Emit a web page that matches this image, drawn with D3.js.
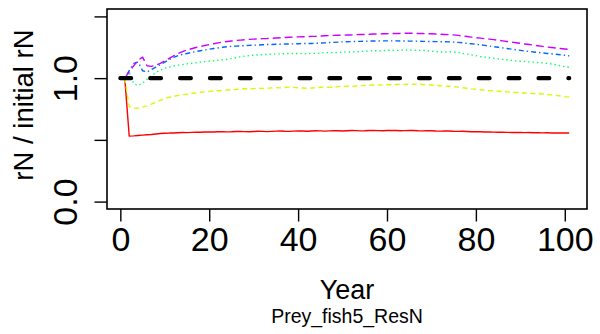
<!DOCTYPE html>
<html>
<head>
<meta charset="utf-8">
<script src="https://cdn.jsdelivr.net/npm/d3@7"></script>
<style>
  html, body { margin: 0; padding: 0; background: #fff; }
  svg { display: block; }
  text { font-family: "Liberation Sans", Arial, Helvetica, sans-serif; fill: #000; }
</style>
</head>
<body>
<svg id="chart" width="600" height="334"></svg>
<script>
// Simulation years (one value per year)
const years = d3.range(1, 102);

// Relative prey reserve nitrogen, rN / initial rN, per scenario
const seriesRed = [
  1.000, 0.530, 0.532, 0.535, 0.538, 0.541, 0.544, 0.548, 0.551, 0.553,
  0.555, 0.556, 0.558, 0.560, 0.559, 0.561, 0.563, 0.562, 0.564, 0.565,
  0.564, 0.566, 0.567, 0.565, 0.566, 0.568, 0.569, 0.567, 0.566, 0.568,
  0.570, 0.569, 0.567, 0.569, 0.571, 0.572, 0.570, 0.569, 0.571, 0.573,
  0.572, 0.570, 0.572, 0.574, 0.573, 0.571, 0.573, 0.575, 0.574, 0.572,
  0.574, 0.576, 0.575, 0.573, 0.574, 0.576, 0.577, 0.575, 0.574, 0.576,
  0.577, 0.576, 0.574, 0.575, 0.577, 0.576, 0.574, 0.573, 0.575, 0.574,
  0.572, 0.571, 0.573, 0.572, 0.570, 0.569, 0.570, 0.568, 0.566, 0.567,
  0.566, 0.564, 0.565, 0.563, 0.562, 0.563, 0.561, 0.560, 0.561, 0.560,
  0.559, 0.560, 0.558, 0.558, 0.557, 0.558, 0.556, 0.557, 0.556, 0.555, 0.555
];
const seriesYellow = [
  1.000, 0.770, 0.755, 0.758, 0.765, 0.775, 0.790, 0.805, 0.820, 0.835,
  0.845, 0.852, 0.860, 0.866, 0.870, 0.876, 0.882, 0.886, 0.889, 0.893,
  0.896, 0.898, 0.901, 0.904, 0.906, 0.908, 0.912, 0.914, 0.913, 0.915,
  0.918, 0.916, 0.918, 0.921, 0.923, 0.921, 0.924, 0.927, 0.925, 0.922,
  0.920, 0.918, 0.920, 0.923, 0.926, 0.928, 0.925, 0.927, 0.931, 0.933,
  0.935, 0.933, 0.936, 0.939, 0.940, 0.942, 0.944, 0.943, 0.945, 0.947,
  0.946, 0.948, 0.950, 0.949, 0.951, 0.950, 0.952, 0.949, 0.946, 0.944,
  0.941, 0.938, 0.936, 0.934, 0.931, 0.927, 0.922, 0.918, 0.913, 0.910,
  0.906, 0.902, 0.899, 0.897, 0.894, 0.891, 0.889, 0.886, 0.884, 0.882,
  0.880, 0.877, 0.876, 0.874, 0.871, 0.868, 0.864, 0.860, 0.855, 0.850, 0.846
];
const seriesGreen = [
  1.000, 1.050, 0.955, 0.940, 0.960, 0.990, 1.020, 1.045, 1.065, 1.080,
  1.090, 1.098, 1.105, 1.110, 1.116, 1.120, 1.125, 1.130, 1.134, 1.138,
  1.141, 1.144, 1.148, 1.152, 1.158, 1.165, 1.172, 1.178, 1.183, 1.186,
  1.188, 1.190, 1.192, 1.194, 1.195, 1.197, 1.198, 1.200, 1.199, 1.200,
  1.198, 1.199, 1.201, 1.200, 1.202, 1.205, 1.207, 1.206, 1.208, 1.210,
  1.212, 1.211, 1.213, 1.216, 1.218, 1.220, 1.222, 1.221, 1.223, 1.225,
  1.226, 1.224, 1.226, 1.228, 1.228, 1.226, 1.224, 1.225, 1.222, 1.218,
  1.215, 1.212, 1.212, 1.214, 1.212, 1.207, 1.200, 1.195, 1.188, 1.182,
  1.175, 1.170, 1.165, 1.160, 1.156, 1.152, 1.148, 1.144, 1.140, 1.137,
  1.135, 1.132, 1.130, 1.127, 1.124, 1.120, 1.115, 1.108, 1.100, 1.093, 1.088
];
const seriesBlue = [
  1.000, 1.060, 1.120, 1.130, 1.060, 1.050, 1.070, 1.090, 1.110, 1.130,
  1.150, 1.168, 1.183, 1.193, 1.200, 1.208, 1.215, 1.222, 1.228, 1.234,
  1.240, 1.245, 1.250, 1.254, 1.257, 1.259, 1.261, 1.263, 1.265, 1.267,
  1.268, 1.270, 1.272, 1.273, 1.274, 1.275, 1.276, 1.277, 1.278, 1.279,
  1.280, 1.281, 1.281, 1.282, 1.284, 1.286, 1.288, 1.290, 1.292, 1.294,
  1.295, 1.296, 1.297, 1.298, 1.299, 1.300, 1.301, 1.301, 1.302, 1.302,
  1.302, 1.302, 1.301, 1.301, 1.300, 1.300, 1.299, 1.298, 1.297, 1.297,
  1.296, 1.295, 1.295, 1.294, 1.292, 1.290, 1.286, 1.282, 1.278, 1.274,
  1.270, 1.265, 1.260, 1.255, 1.250, 1.245, 1.240, 1.235, 1.230, 1.225,
  1.220, 1.216, 1.212, 1.208, 1.204, 1.200, 1.197, 1.193, 1.189, 1.185, 1.180
];
const seriesMagenta = [
  1.000, 1.050, 1.100, 1.145, 1.170, 1.100, 1.095, 1.105, 1.120, 1.140,
  1.160, 1.180, 1.200, 1.215, 1.228, 1.238, 1.248, 1.256, 1.264, 1.272,
  1.279, 1.286, 1.292, 1.297, 1.301, 1.305, 1.308, 1.311, 1.314, 1.316,
  1.318, 1.320, 1.321, 1.323, 1.325, 1.327, 1.329, 1.331, 1.333, 1.334,
  1.335, 1.336, 1.338, 1.339, 1.341, 1.343, 1.345, 1.346, 1.347, 1.348,
  1.349, 1.350, 1.352, 1.353, 1.354, 1.355, 1.357, 1.358, 1.359, 1.360,
  1.361, 1.362, 1.362, 1.363, 1.363, 1.363, 1.362, 1.361, 1.360, 1.359,
  1.357, 1.355, 1.354, 1.352, 1.350, 1.346, 1.342, 1.337, 1.332, 1.328,
  1.324, 1.320, 1.316, 1.312, 1.307, 1.302, 1.297, 1.292, 1.287, 1.282,
  1.277, 1.272, 1.267, 1.262, 1.257, 1.252, 1.248, 1.244, 1.240, 1.236, 1.232
];

// Reference line at the initial level
const refYears = [0, 101];
const refValue = 1;

// Axis ticks and labels
const xTicks = [0, 20, 40, 60, 80, 100];
const yTicks = [0, 0.5, 1, 1.5];
const yTickLabels = ["0.0", "", "1.0", ""];

const xTitle = "Year";
const yTitle = "rN / initial rN";
const subTitle = "Prey_fish5_ResN";

// Line styling per series
const lineStyles = [
  { values: seriesRed,     color: "#FF0000", dash: null },
  { values: seriesYellow,  color: "#CCFF00", dash: "5,3.5" },
  { values: seriesGreen,   color: "#00FF66", dash: "1.4,3" },
  { values: seriesBlue,    color: "#0066FF", dash: "1.4,3,5,3" },
  { values: seriesMagenta, color: "#CC00FF", dash: "8,4" }
];

const plot = { left: 107, right: 587, top: 9, bottom: 209 };

const x = d3.scaleLinear().domain([-3, 105]).range([plot.left, plot.right]);
const y = d3.scaleLinear().domain([-0.06, 1.56]).range([plot.bottom, plot.top]);

const svg = d3.select("#chart");

// Series lines
const line = d3.line()
  .x((d, i) => x(years[i]))
  .y(d => y(d));

lineStyles.forEach(s => {
  svg.append("path")
    .datum(s.values)
    .attr("d", line)
    .attr("fill", "none")
    .attr("stroke", s.color)
    .attr("stroke-width", 1.4)
    .attr("stroke-dasharray", s.dash)
    .attr("stroke-linejoin", "round");
});

// Thick dashed reference line
svg.append("path")
  .datum(refYears)
  .attr("d", d3.line().x(d => x(d)).y(() => y(refValue)))
  .attr("fill", "none")
  .attr("stroke", "#000")
  .attr("stroke-width", 4.2)
  .attr("stroke-linecap", "round")
  .attr("stroke-dasharray", "10.8,19.07");

// Plot frame
svg.append("rect")
  .attr("x", plot.left)
  .attr("y", plot.top)
  .attr("width", plot.right - plot.left)
  .attr("height", plot.bottom - plot.top)
  .attr("fill", "none")
  .attr("stroke", "#000")
  .attr("stroke-width", 1.6);

// X axis
const gx = svg.append("g")
  .attr("transform", `translate(0,${plot.bottom})`)
  .call(d3.axisBottom(x).tickValues(xTicks).tickSize(12.5).tickFormat(d3.format("d")));
gx.select(".domain").remove();
gx.selectAll(".tick line").attr("stroke", "#000").attr("stroke-width", 1.4);
gx.selectAll(".tick text")
  .attr("y", 42)
  .attr("dy", null)
  .style("font-size", "34px")
  .attr("fill", "#000");

// Y axis with rotated labels
const gy = svg.append("g")
  .attr("transform", `translate(${plot.left},0)`)
  .call(d3.axisLeft(y).tickValues(yTicks).tickSize(12.5)
    .tickFormat((d, i) => yTickLabels[i]));
gy.select(".domain").remove();
gy.selectAll(".tick line").attr("stroke", "#000").attr("stroke-width", 1.4);
gy.selectAll(".tick text")
  .attr("x", 0)
  .attr("y", -30)
  .attr("dy", null)
  .attr("transform", "rotate(-90)")
  .attr("text-anchor", "middle")
  .style("font-size", "34px")
  .attr("fill", "#000");

// Titles
svg.append("text")
  .attr("x", (plot.left + plot.right) / 2)
  .attr("y", 299)
  .attr("text-anchor", "middle")
  .style("font-size", "27px")
  .text(xTitle);

svg.append("text")
  .attr("x", (plot.left + plot.right) / 2)
  .attr("y", 322.5)
  .attr("text-anchor", "middle")
  .style("font-size", "19.5px")
  .text(subTitle);

svg.append("text")
  .attr("transform", `translate(33,${(plot.top + plot.bottom) / 2 - 4}) rotate(-90)`)
  .attr("text-anchor", "middle")
  .style("font-size", "27.5px")
  .text(yTitle);
</script>
</body>
</html>
